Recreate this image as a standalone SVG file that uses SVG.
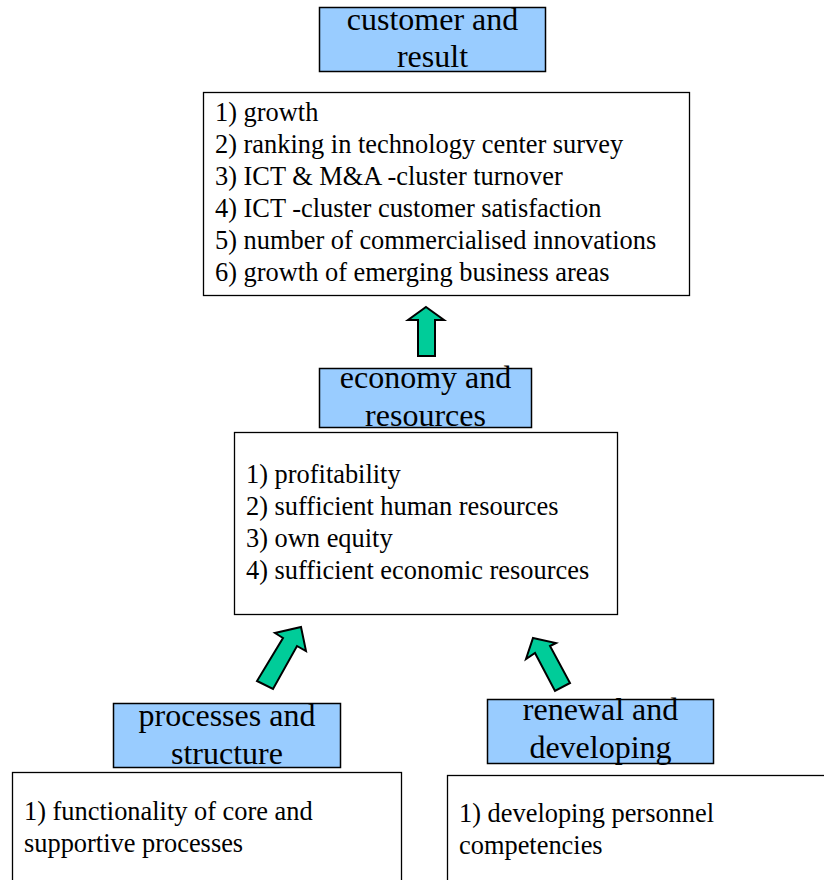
<svg xmlns="http://www.w3.org/2000/svg" width="824" height="880" viewBox="0 0 824 880" font-family="'Liberation Serif', Tinos, 'Times New Roman', Times, serif">
  <style>
    .head { fill: #99ccff; stroke: #000; stroke-width: 1.5; }
    .box { fill: #fff; stroke: #000; stroke-width: 1.3; }
    text { font-family: 'Liberation Serif', Tinos, 'Times New Roman', Times, serif; fill: #000; }
    .title { font-size: 32px; text-anchor: middle; }
    .item { font-size: 26.4px; }
    .arrow { fill: #00cc99; stroke: #000; stroke-width: 2; stroke-linejoin: miter; }
  </style>
  <rect width="824" height="880" fill="#fff"/>

  <!-- customer and result -->
  <g id="customer-result">
    <rect class="head" x="319.5" y="7.5" width="226" height="64"/>
    <text class="title" x="432.5" y="30">customer and</text>
    <text class="title" x="432.5" y="67">result</text>
    <rect class="box" x="203.5" y="92.5" width="486" height="203"/>
    <text class="item" x="215" y="121">1) growth</text>
    <text class="item" x="215" y="153">2) ranking in technology center survey</text>
    <text class="item" x="215" y="185">3) ICT &amp; M&amp;A -cluster turnover</text>
    <text class="item" x="215" y="217">4) ICT -cluster customer satisfaction</text>
    <text class="item" x="215" y="249">5) number of commercialised innovations</text>
    <text class="item" x="215" y="281">6) growth of emerging business areas</text>
  </g>

  <!-- economy and resources -->
  <g id="economy-resources">
    <rect class="head" x="319.5" y="368.5" width="212" height="59"/>
    <text class="title" x="425.5" y="388">economy and</text>
    <text class="title" x="425.5" y="426">resources</text>
    <rect class="box" x="234.5" y="432.5" width="383" height="182"/>
    <text class="item" x="246" y="483">1) profitability</text>
    <text class="item" x="246" y="515">2) sufficient human resources</text>
    <text class="item" x="246" y="547">3) own equity</text>
    <text class="item" x="246" y="579">4) sufficient economic resources</text>
  </g>

  <!-- processes and structure -->
  <g id="processes-structure">
    <rect class="head" x="113.5" y="703.5" width="227" height="64"/>
    <text class="title" x="227" y="726">processes and</text>
    <text class="title" x="227" y="764">structure</text>
    <rect class="box" x="12.5" y="772.5" width="389" height="120"/>
    <text class="item" x="24" y="820">1) functionality of core and</text>
    <text class="item" x="24" y="852">supportive processes</text>
  </g>

  <!-- renewal and developing -->
  <g id="renewal-developing">
    <rect class="head" x="487.5" y="699.5" width="226" height="64"/>
    <text class="title" x="600.5" y="720">renewal and</text>
    <text class="title" x="600.5" y="758">developing</text>
    <rect class="box" x="447.5" y="775.5" width="400" height="120"/>
    <text class="item" x="459" y="822">1) developing personnel</text>
    <text class="item" x="459" y="854">competencies</text>
  </g>

  <!-- block arrows between levels -->
  <g id="connectors">
    <polygon class="arrow" points="426,307 444,320 435,320 435,356 418,356 418,320 408,320"/>
    <polygon class="arrow" points="301,627 306,651 297,646 273,689 257,681 283,638 275,633"/>
    <polygon class="arrow" points="533,638 556,643 550,646 570,683 555,691 535,653 526,659"/>
  </g>
</svg>
